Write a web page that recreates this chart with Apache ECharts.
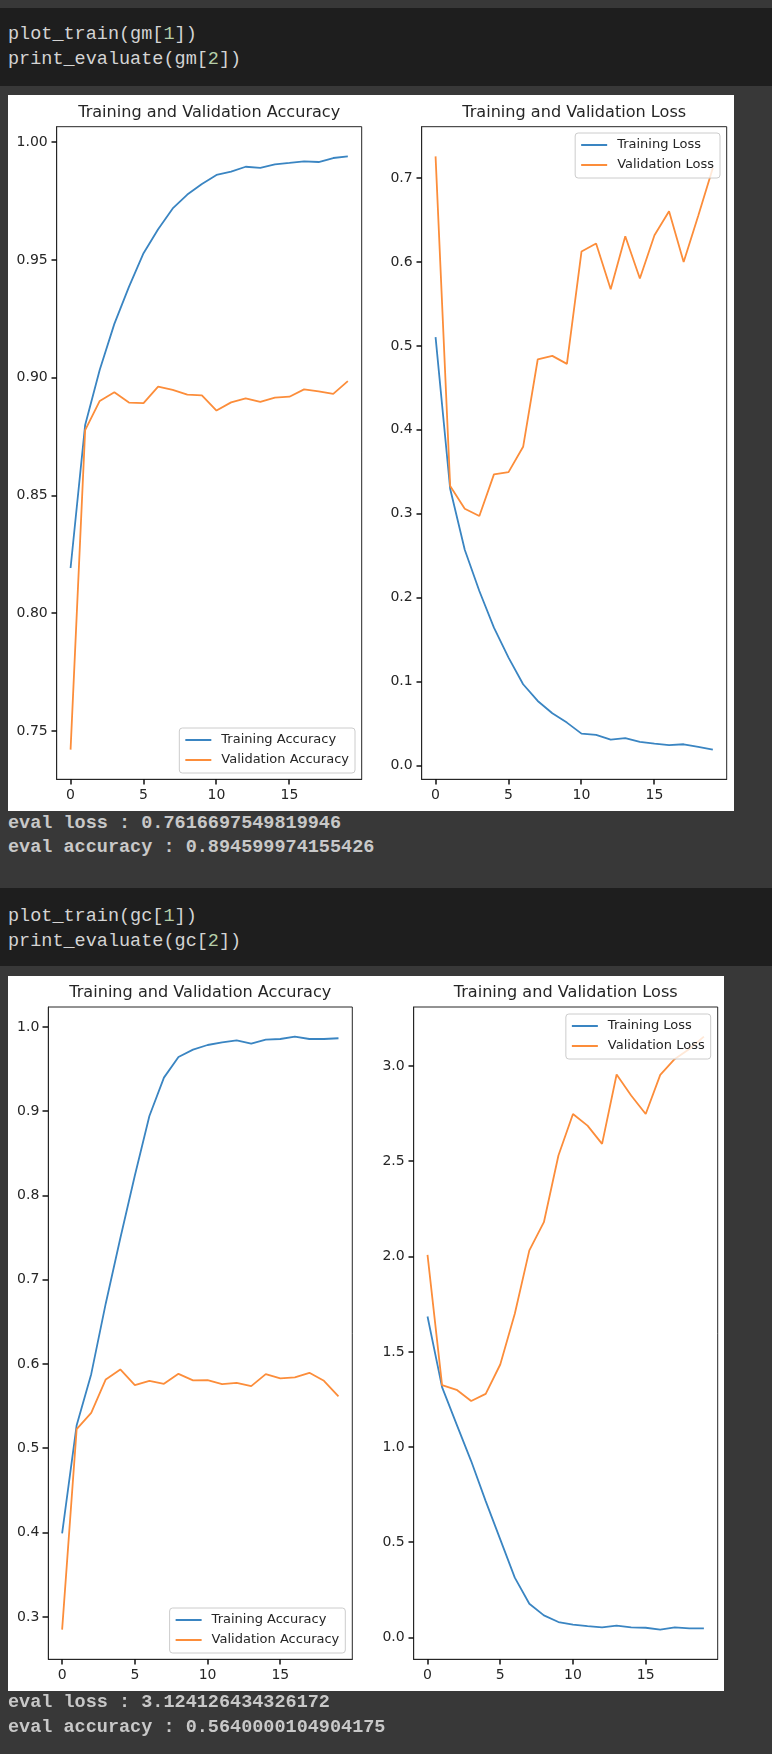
<!DOCTYPE html>
<html>
<head>
<meta charset="utf-8">
<script src="https://cdn.jsdelivr.net/npm/echarts@6/dist/echarts.min.js"></script>
<style>
  body { margin: 0; width: 772px; height: 1754px; background: #383838; position: relative; overflow: hidden; }
  .cell { position: absolute; left: 0; width: 772px; background: #1e1e1e; }
  .line { position: absolute; left: 8px; font-family: 'Liberation Mono', monospace; font-size: 18.5px;
          line-height: 25px; color: #d4d4d4; white-space: pre; }
  .num { color: #b5cea8; }
  .out { font-weight: bold; color: #c8c8c8; }
  .fig { position: absolute; left: 8px; background: #fff; }
</style>
</head>
<body>
<div class="cell" style="top:8px;height:78px"></div>
<div class="line" style="top:22px">plot_train(gm[<span class="num">1</span>])</div>
<div class="line" style="top:47px">print_evaluate(gm[<span class="num">2</span>])</div>
<div class="fig" id="fig-gm" style="top:95px;width:726px;height:716px"></div>
<div class="line out" style="top:811px">eval loss : 0.7616697549819946</div>
<div class="line out" style="top:835px">eval accuracy : 0.894599974155426</div>

<div class="cell" style="top:888px;height:78px"></div>
<div class="line" style="top:904px">plot_train(gc[<span class="num">1</span>])</div>
<div class="line" style="top:929px">print_evaluate(gc[<span class="num">2</span>])</div>
<div class="fig" id="fig-gc" style="top:976px;width:716px;height:715px"></div>
<div class="line out" style="top:1690px">eval loss : 3.124126434326172</div>
<div class="line out" style="top:1715px">eval accuracy : 0.5640000104904175</div>

<script>
// epochs
const epochs = [0, 1, 2, 3, 4, 5, 6, 7, 8, 9, 10, 11, 12, 13, 14, 15, 16, 17, 18, 19];
const epochTicks = [0, 5, 10, 15];

// gm run
const gmTrainAcc = [0.8193, 0.8800, 0.9034, 0.9229, 0.9386, 0.9529, 0.9631, 0.9719, 0.9778, 0.9823,
                    0.9861, 0.9875, 0.9896, 0.9891, 0.9906, 0.9912, 0.9919, 0.9916, 0.9933, 0.9940];
const gmValAcc = [0.7422, 0.8778, 0.8902, 0.8939, 0.8895, 0.8893, 0.8963, 0.8949, 0.8929, 0.8926,
                  0.8861, 0.8896, 0.8913, 0.8898, 0.8916, 0.8920, 0.8951, 0.8943, 0.8932, 0.8986];
const gmTrainLoss = [0.5104, 0.3298, 0.2571, 0.2080, 0.1643, 0.1286, 0.0969, 0.0770, 0.0623, 0.0512,
                     0.0381, 0.0365, 0.0310, 0.0326, 0.0282, 0.0262, 0.0243, 0.0254, 0.0223, 0.0190];
const gmValLoss = [0.7258, 0.3330, 0.3060, 0.2973, 0.3469, 0.3496, 0.3798, 0.4838, 0.4881, 0.4786,
                   0.6124, 0.6219, 0.5675, 0.6306, 0.5802, 0.6318, 0.6604, 0.6000, 0.6550, 0.7120];
const gmAccTicks = [0.75, 0.80, 0.85, 0.90, 0.95, 1.00];
const gmLossTicks = [0.0, 0.1, 0.2, 0.3, 0.4, 0.5, 0.6, 0.7];

// gc run
const gcTrainAcc = [0.3993, 0.5276, 0.5881, 0.6720, 0.7494, 0.8237, 0.8944, 0.9399, 0.9644, 0.9731,
                    0.9786, 0.9818, 0.9842, 0.9802, 0.9849, 0.9857, 0.9885, 0.9857, 0.9857, 0.9866];
const gcValAcc = [0.2850, 0.5229, 0.5422, 0.5818, 0.5937, 0.5751, 0.5802, 0.5766, 0.5885, 0.5807,
                  0.5810, 0.5763, 0.5778, 0.5739, 0.5881, 0.5830, 0.5842, 0.5897, 0.5802, 0.5617];
const gcTrainLoss = [1.686, 1.315, 1.120, 0.927, 0.717, 0.516, 0.315, 0.178, 0.117, 0.082,
                     0.068, 0.060, 0.054, 0.063, 0.054, 0.052, 0.042, 0.054, 0.049, 0.049];
const gcValLoss = [2.009, 1.326, 1.301, 1.242, 1.280, 1.434, 1.700, 2.033, 2.181, 2.531,
                   2.749, 2.688, 2.592, 2.956, 2.846, 2.749, 2.954, 3.038, 3.090, 3.155];
const gcAccTicks = [0.3, 0.4, 0.5, 0.6, 0.7, 0.8, 0.9, 1.0];
const gcLossTicks = [0.0, 0.5, 1.0, 1.5, 2.0, 2.5, 3.0];

const BLUE = '#3a85c2';
const ORANGE = '#fc8d3a';
const INK = '#262626';
const FONT = 'DejaVu Sans';
const TICK_LEN = 5.5;

// matplotlib-style 5% margins
function padRange(...arrs) {
    const all = [].concat(...arrs);
    const lo = Math.min(...all), hi = Math.max(...all);
    const m = (hi - lo) * 0.05;
    return [lo - m, hi + m];
}

function xAxisFor(idx) {
    const [lo, hi] = padRange(epochs);
    return {
        type: 'value', gridIndex: idx, min: lo, max: hi,
        axisLine: { show: true, onZero: false, lineStyle: { color: INK, width: 1 } },
        splitLine: { show: false }, axisTick: { show: false },
        axisLabel: { customValues: epochTicks, margin: 9, color: INK, fontFamily: FONT, fontSize: 14 }
    };
}

function yAxisFor(idx, range, ticks, digits) {
    return {
        type: 'value', gridIndex: idx, min: range[0], max: range[1],
        axisLine: { show: true, onZero: false, lineStyle: { color: INK, width: 1 } },
        splitLine: { show: false }, axisTick: { show: false },
        axisLabel: { customValues: ticks, margin: 9, color: INK, fontFamily: FONT, fontSize: 14,
                     formatter: v => v.toFixed(digits) }
    };
}

function lineSeries(name, idx, vals, color) {
    return {
        name, type: 'line', xAxisIndex: idx, yAxisIndex: idx,
        data: epochs.map((e, i) => [e, vals[i]]),
        showSymbol: false, symbol: 'none', animation: false,
        lineStyle: { width: 1.8, color }, itemStyle: { color }
    };
}

function legendFor(names, pos) {
    return Object.assign({
        orient: 'vertical', data: names, selectedMode: false,
        icon: 'rect', itemWidth: 26, itemHeight: 2, itemGap: 4,
        padding: [4, 6, 5, 6],
        backgroundColor: 'rgba(255,255,255,0.8)', borderColor: '#cccccc', borderWidth: 1, borderRadius: 3,
        textStyle: { fontFamily: FONT, fontSize: 13, color: INK, lineHeight: 16, padding: [0, 0, 0, 5] }
    }, pos);
}

function titleText(text, x, y) {
    return { type: 'text', x, y, silent: true, z: 10,
             style: { text, fill: INK, font: '16.1px "DejaVu Sans"', align: 'center', verticalAlign: 'middle' } };
}

// small rect so the tick stays crisp after downscaling
function tickMark(x, y, w, h) {
    return { type: 'rect', silent: true, z: 10, shape: { x, y, width: w, height: h }, style: { fill: '#111111' } };
}

function buildFigure(el, g, d) {
    const chart = echarts.init(el, null, { renderer: 'canvas' });
    const gridStyle = { show: true, borderColor: INK, borderWidth: 1, backgroundColor: 'transparent' };
    const lefts = [g.l1, g.l2];
    const bottom = g.top + g.h;
    const xRange = padRange(epochs);
    const yRanges = [padRange(d.trainAcc, d.valAcc), padRange(d.trainLoss, d.valLoss)];
    chart.setOption({
        animation: false,
        backgroundColor: '#fff',
        grid: lefts.map(l => Object.assign({ left: l, top: g.top, width: g.w, height: g.h }, gridStyle)),
        xAxis: [xAxisFor(0), xAxisFor(1)],
        yAxis: [
            yAxisFor(0, yRanges[0], d.accTicks, d.accDigits),
            yAxisFor(1, yRanges[1], d.lossTicks, 1)
        ],
        legend: [
            legendFor(['Training Accuracy', 'Validation Accuracy'], { right: g.accLegRight, bottom: 38 }),
            legendFor(['Training Loss', 'Validation Loss'], { right: g.lossLegRight, top: 38 })
        ],
        series: [
            lineSeries('Training Accuracy', 0, d.trainAcc, BLUE),
            lineSeries('Validation Accuracy', 0, d.valAcc, ORANGE),
            lineSeries('Training Loss', 1, d.trainLoss, BLUE),
            lineSeries('Validation Loss', 1, d.valLoss, ORANGE)
        ]
    });

    // outward ticks at the axes' pixel positions
    const xPix = (idx, v) => {
        const p = chart.convertToPixel({ xAxisIndex: idx }, v);
        return Number.isFinite(p) ? p : lefts[idx] + (v - xRange[0]) / (xRange[1] - xRange[0]) * g.w;
    };
    const yPix = (idx, v) => {
        const p = chart.convertToPixel({ yAxisIndex: idx }, v);
        const r = yRanges[idx];
        return Number.isFinite(p) ? p : bottom - (v - r[0]) / (r[1] - r[0]) * g.h;
    };
    const graphic = [
        titleText('Training and Validation Accuracy', g.l1 + g.w / 2, g.titleY),
        titleText('Training and Validation Loss', g.l2 + g.w / 2, g.titleY)
    ];
    const yTicks = [d.accTicks, d.lossTicks];
    [0, 1].forEach(idx => {
        epochTicks.forEach(v => {
            const px = Math.round(xPix(idx, v));
            graphic.push(tickMark(px - 0.75, Math.round(bottom), 1.5, TICK_LEN));
        });
        yTicks[idx].forEach(v => {
            const py = Math.round(yPix(idx, v));
            graphic.push(tickMark(Math.round(lefts[idx]) - TICK_LEN, py - 0.75, TICK_LEN, 1.5));
        });
    });
    chart.setOption({ graphic });
    return chart;
}

buildFigure(document.getElementById('fig-gm'),
    { l1: 48.7, l2: 413.7, top: 31.7, w: 305, h: 652.6, titleY: 17.8, accLegRight: 379, lossLegRight: 14 },
    { trainAcc: gmTrainAcc, valAcc: gmValAcc, trainLoss: gmTrainLoss, valLoss: gmValLoss,
      accTicks: gmAccTicks, lossTicks: gmLossTicks, accDigits: 2 });

buildFigure(document.getElementById('fig-gc'),
    { l1: 40.3, l2: 405.7, top: 31, w: 304, h: 652.3, titleY: 17.2, accLegRight: 378.7, lossLegRight: 13.3 },
    { trainAcc: gcTrainAcc, valAcc: gcValAcc, trainLoss: gcTrainLoss, valLoss: gcValLoss,
      accTicks: gcAccTicks, lossTicks: gcLossTicks, accDigits: 1 });
</script>
</body>
</html>
